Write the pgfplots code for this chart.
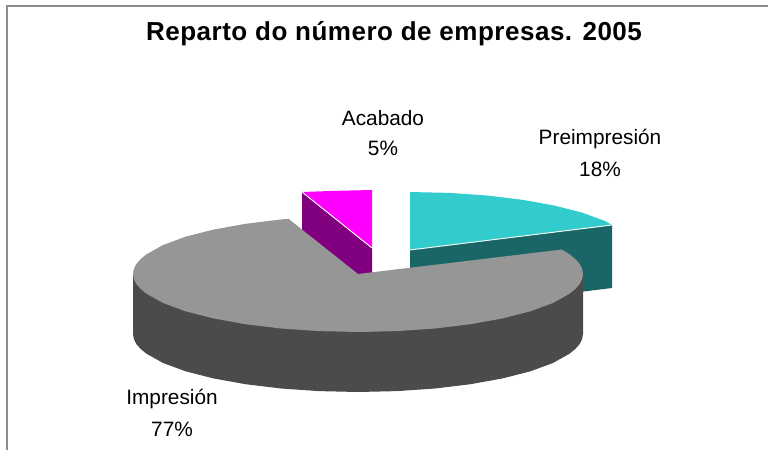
\documentclass[border=0pt]{standalone}
\usepackage{pgfplots}
\pgfplotsset{compat=1.18}
\usepackage{fontspec}
\setmainfont{Liberation Sans}
\definecolor{cCyan}{HTML}{33CCCC}
\definecolor{cTeal}{HTML}{1A6666}
\definecolor{cMag}{HTML}{FF00FF}
\definecolor{cPur}{HTML}{800080}
\definecolor{cGray}{HTML}{969696}
\definecolor{cDark}{HTML}{4B4B4B}
\definecolor{cFrame}{HTML}{8C8C8C}
\begin{document}
\begin{tikzpicture}
\begin{axis}[
  scale only axis, width=768pt, height=450pt,
  xmin=0, xmax=768, ymin=0, ymax=450, y dir=reverse,
  axis lines=none, clip=true,
  every axis plot/.append style={mark=none, line join=miter},
]
% page background (keeps the picture at the full size)
\addplot[fill=white, draw=none] coordinates {(0,0) (768,0) (768,450) (0,450)};
% frame
\addplot[draw=cFrame, line width=1.2pt] coordinates {(7,450) (7,6) (768,6)};
% Preimpresion: side
\addplot[fill=cTeal, draw=none] coordinates {(410,250) (612,225) (612,288) (410,313)};
% Preimpresion: top
\addplot[fill=cCyan, draw=none] coordinates {(410,192) (449.1,192.9) (487,195.5) (522.5,199.8) (554.6,205.6) (582.4,212.7) (604.9,221) (612,225) (410,250)};
\addplot[draw=white, line width=0.9pt] coordinates {(410,250) (612,225)};
% Acabado: side
\addplot[fill=cPur, draw=none] coordinates {(302,192) (372,248) (372,308) (302,252)};
% Acabado: top
\addplot[fill=cMag, draw=none] coordinates {(372,190) (332.9,190.9) (302,192) (372,248)};
\addplot[draw=white, line width=0.9pt] coordinates {(302,192) (372,248)};
% Impresion: side
\addplot[fill=cDark, draw=none] coordinates {(583,274) (583,334) (582.1,339.1) (579.6,344.1) (575.3,349) (569.4,353.8) (552.9,363) (530.4,371.3) (502.6,378.4) (470.5,384.2) (435,388.5) (397.1,391.1) (358,392) (318.9,391.1) (281,388.5) (245.5,384.2) (213.4,378.4) (185.6,371.3) (163.1,363) (146.6,353.8) (140.7,349) (136.4,344.1) (133.9,339.1) (133,334) (133,274)};
% Impresion: top
\addplot[fill=cGray, draw=none] coordinates {(358,274) (561.9,249.5) (569.4,254.2) (575.3,259) (579.6,263.9) (582.1,268.9) (583,274) (582.1,279.1) (579.6,284.1) (575.3,289) (569.4,293.8) (552.9,303) (530.4,311.3) (502.6,318.4) (470.5,324.2) (435,328.5) (397.1,331.1) (358,332) (318.9,331.1) (281,328.5) (245.5,324.2) (213.4,318.4) (185.6,311.3) (163.1,303) (146.6,293.8) (140.7,289) (136.4,284.1) (133.9,279.1) (133,274) (133.9,268.9) (136.4,263.9) (140.7,259) (146.6,254.2) (163.1,245) (185.6,236.7) (213.4,229.6) (245.5,223.8) (281,219.5) (288.5,218.8)};
% text
\node[font=\fontsize{26}{28}\selectfont\bfseries\addfontfeatures{LetterSpace=2}] at (axis cs:394,33.5) {Reparto do número de empresas. 2005};
\node[font=\fontsize{20.8}{24}\selectfont] at (axis cs:383,118) {Acabado};
\node[font=\fontsize{20.8}{24}\selectfont] at (axis cs:383,148) {5\%};
\node[font=\fontsize{20.8}{24}\selectfont] at (axis cs:600,139) {Preimpresión};
\node[font=\fontsize{20.8}{24}\selectfont] at (axis cs:600,169) {18\%};
\node[font=\fontsize{20.8}{24}\selectfont] at (axis cs:172,399) {Impresión};
\node[font=\fontsize{20.8}{24}\selectfont] at (axis cs:172,429) {77\%};
\end{axis}
\end{tikzpicture}
\end{document}
